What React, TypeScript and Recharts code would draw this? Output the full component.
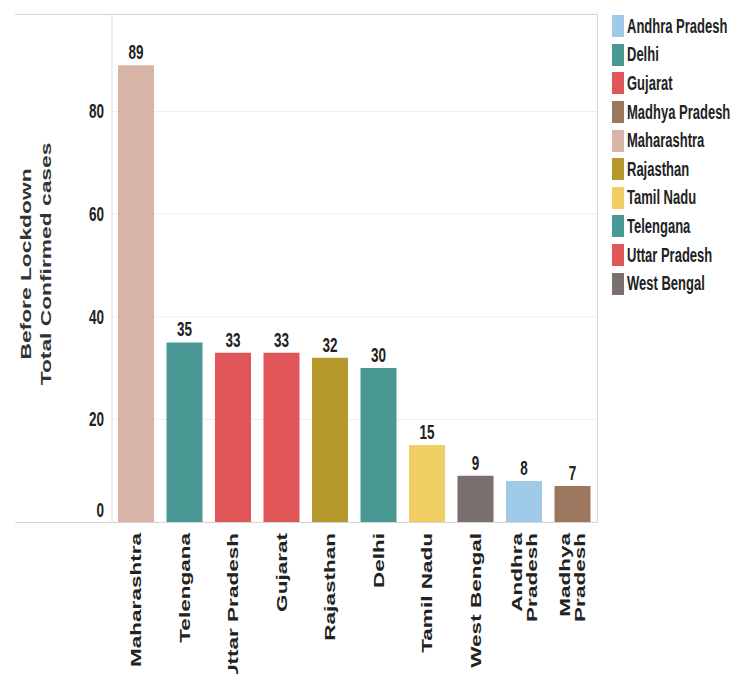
import { BarChart, Bar, XAxis, YAxis, CartesianGrid, Legend, LabelList, Cell, Label } from 'recharts';

const states = ['Maharashtra', 'Telengana', 'Uttar Pradesh', 'Gujarat', 'Rajasthan', 'Delhi', 'Tamil Nadu', 'West Bengal', 'Andhra Pradesh', 'Madhya Pradesh'];
const cases = [89, 35, 33, 33, 32, 30, 15, 9, 8, 7];
const legendStates = ['Andhra Pradesh', 'Delhi', 'Gujarat', 'Madhya Pradesh', 'Maharashtra', 'Rajasthan', 'Tamil Nadu', 'Telengana', 'Uttar Pradesh', 'West Bengal'];
const legendColors = ['#A0CBE8', '#499894', '#E15759', '#9D7660', '#D7B5A6', '#B6992D', '#F1CE63', '#499894', '#E15759', '#79706E'];
const yTicks = [0, 20, 40, 60, 80];
const twoLineLabels = ['Andhra Pradesh', 'Madhya Pradesh'];

const data = states.map((state, i) => ({ state, cases: cases[i] }));
const colorOf = (s: string) => legendColors[legendStates.indexOf(s)];

const FONT = '"Liberation Sans", Arial, sans-serif';
const STRETCH = 1.55;

// rotated category labels, stretched along their length like the source image
const XTick = ({ x, y, payload }: any) => {
  const label: string = payload.value;
  const lines = twoLineLabels.includes(label) ? label.split(' ') : [label];
  return (
    <g transform={`translate(${x},${y + 3}) scale(1,1.61) rotate(-90)`}>
      <text textAnchor="end" fontFamily={FONT} fontWeight="bold" fontSize={14} fill="#222">
        {lines.map((l, i) => (
          <tspan key={l} x={0} dy={i === 0 ? (lines.length === 1 ? 5 : -2.5) : 15}>{l}</tspan>
        ))}
      </text>
    </g>
  );
};

const YTick = ({ y, payload }: any) => {
  const shift = payload.value === 0 ? -12 : 0;
  return (
    <g transform={`translate(104,${y + shift}) scale(1,${STRETCH})`}>
      <text textAnchor="end" dy={4.5} fontFamily={FONT} fontWeight="bold" fontSize={13.5} fill="#222">
        {payload.value}
      </text>
    </g>
  );
};

const ValueLabel = ({ x, y, width, value }: any) => (
  <g transform={`translate(${x + width / 2},${y - 6}) scale(1,${STRETCH})`}>
    <text textAnchor="middle" fontFamily={FONT} fontWeight="bold" fontSize={13.5} fill="#222">
      {value}
    </text>
  </g>
);

const AxisTitle = ({ viewBox }: any) => {
  const cy = viewBox.y + viewBox.height / 2 - 4;
  return (
    <g fontFamily={FONT} fontWeight="bold" fontSize={15} fill="#333">
      <g transform={`translate(31,${cy}) scale(1,1.52) rotate(-90)`}>
        <text textAnchor="middle">Before Lockdown</text>
      </g>
      <g transform={`translate(51,${cy}) scale(1,1.52) rotate(-90)`}>
        <text textAnchor="middle">Total Confirmed cases</text>
      </g>
    </g>
  );
};

const LegendBox = () => (
  <div style={{ fontFamily: FONT, fontWeight: 'bold' }}>
    {legendStates.map((s, i) => (
      <div key={s} style={{ display: 'flex', alignItems: 'center', height: 28.6 }}>
        <div style={{ width: 12, height: 22, background: legendColors[i], marginRight: 3 }} />
        <span style={{ fontSize: 13, color: '#222', display: 'inline-block', transform: `scaleY(${STRETCH})`, whiteSpace: 'nowrap' }}>{s}</span>
      </div>
    ))}
  </div>
);

const App = () => {
  return (
    <div style={{ position: 'absolute', left: 0, top: 0, width: 737, height: 674, background: '#fff' }}>
      <BarChart width={737} height={674} data={data} margin={{ top: 14, right: 140, bottom: 0, left: 0 }} barCategoryGap={12}>
        <CartesianGrid vertical={false} stroke="#eeeeee" />
        <XAxis dataKey="state" axisLine={false} tickLine={false} tick={<XTick />} interval={0} height={152} />
        <YAxis width={112} domain={[0, 99]} ticks={yTicks} axisLine={{ stroke: '#dddddd' }} tickLine={false} tick={<YTick />}>
          <Label content={<AxisTitle />} />
        </YAxis>
        <Legend layout="vertical" align="center" verticalAlign="middle" content={<LegendBox />} wrapperStyle={{ left: 612, top: 12, width: 125 }} />
        <Bar dataKey="cases" barSize={36} isAnimationActive={false}>
          {data.map((d) => (
            <Cell key={d.state} fill={colorOf(d.state)} />
          ))}
          <LabelList dataKey="cases" content={<ValueLabel />} />
        </Bar>
      </BarChart>
      <div style={{ position: 'absolute', left: 15, top: 14, width: 582, height: 1, background: '#d6d6d6' }} />
      <div style={{ position: 'absolute', left: 15, top: 522, width: 582, height: 1, background: '#d6d6d6' }} />
      <div style={{ position: 'absolute', left: 597, top: 14, width: 1, height: 509, background: '#d6d6d6' }} />
    </div>
  );
};

export default App;
